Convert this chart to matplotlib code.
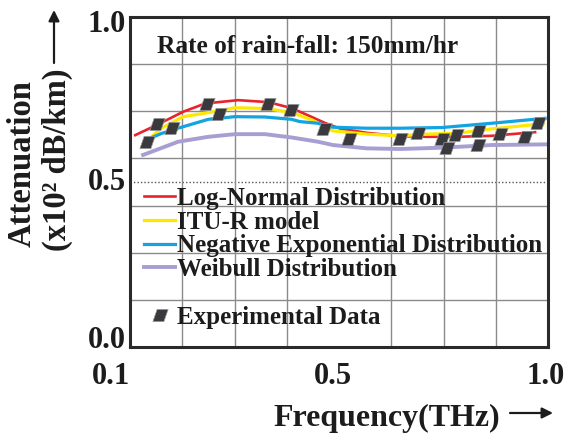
import numpy as np
import matplotlib
matplotlib.use('Agg')
import matplotlib.pyplot as plt
from matplotlib.ticker import NullFormatter
from matplotlib.transforms import ScaledTranslation

plt.rcParams['font.family'] = ['Liberation Serif', 'DejaVu Serif']
plt.rcParams['font.weight'] = 'bold'

# ---------------- data ----------------
x_ticks = [0.1, 0.5, 1.0]
x_tick_labels = ['0.1', '0.5', '1.0']
y_ticks = [0.0, 0.5, 1.0]
y_tick_labels = ['0.0', '0.5', '1.0']

lognormal_f = [0.110, 0.154, 0.202, 0.244, 0.307, 0.365, 0.409, 0.448, 0.473, 0.502,
               0.566, 0.646, 0.710, 0.785, 0.865, 0.969]
lognormal_y = [0.642, 0.675, 0.713, 0.738, 0.748, 0.742, 0.724, 0.697, 0.679, 0.662,
               0.649, 0.639, 0.637, 0.637, 0.640, 0.651]

itur_f = [0.131, 0.160, 0.202, 0.253, 0.301, 0.358, 0.409, 0.448, 0.4885, 0.566,
          0.646, 0.710, 0.785, 0.865, 0.945, 0.988]
itur_y = [0.622, 0.663, 0.698, 0.711, 0.725, 0.723, 0.711, 0.688, 0.655, 0.645,
          0.640, 0.645, 0.648, 0.661, 0.671, 0.677]

negexp_f = [0.138, 0.160, 0.192, 0.250, 0.301, 0.358, 0.409, 0.425, 0.460, 0.4885,
            0.566, 0.646, 0.746, 0.865, 0.993]
negexp_y = [0.632, 0.647, 0.663, 0.690, 0.698, 0.697, 0.690, 0.683, 0.678, 0.666,
            0.663, 0.663, 0.665, 0.678, 0.693]

weibull_f = [0.125, 0.192, 0.250, 0.301, 0.358, 0.409, 0.460, 0.4885, 0.566, 0.646,
             0.746, 0.865, 0.993]
weibull_y = [0.582, 0.622, 0.637, 0.645, 0.645, 0.635, 0.622, 0.612, 0.602, 0.600,
             0.604, 0.612, 0.614]

exp_f = [0.152, 0.132, 0.180, 0.248, 0.270, 0.365, 0.408, 0.472, 0.524, 0.645,
         0.690, 0.746, 0.779, 0.758, 0.832, 0.833, 0.885, 0.945, 0.975]
exp_y = [0.675, 0.620, 0.665, 0.736, 0.705, 0.737, 0.718, 0.662, 0.629, 0.629,
         0.650, 0.629, 0.642, 0.604, 0.655, 0.613, 0.646, 0.637, 0.680]

series_labels = ['Log-Normal Distribution', 'ITU-R model',
                 'Negative Exponential Distribution', 'Weibull Distribution']
exp_label = 'Experimental Data'


# piecewise-linear frequency axis (0.1..0.5 on left half, 0.5..1.0 on right half)
def fwd(x):
    x = np.asarray(x, dtype=float)
    return np.where(x <= 0.5, (x - 0.1) / 0.8, x)


def inv(t):
    t = np.asarray(t, dtype=float)
    return np.where(t <= 0.5, 0.1 + 0.8 * t, t)


TXT = '#1c1c1c'
W, H = 565, 434
fig = plt.figure(figsize=(W / 100, H / 100), dpi=100)
ax = fig.add_axes([130 / W, 87 / H, 418 / W, 330 / H])
ax.set_xscale('function', functions=(fwd, inv))
ax.set_xlim(0.1, 1.0)
ax.set_ylim(0.0, 1.0)

grid_x = [0.2, 0.3, 0.4, 0.5, 0.625, 0.75, 0.875]
grid_y = [k / 7 for k in range(1, 7)]
ax.set_xticks(grid_x, minor=True)
ax.set_yticks(grid_y, minor=True)
ax.xaxis.set_minor_formatter(NullFormatter())
ax.yaxis.set_minor_formatter(NullFormatter())
ax.grid(which='minor', color='#8a8a8a', lw=1.0, zorder=0)
ax.grid(which='major', visible=False)
ax.axhline(0.5, color='#555555', lw=1.0, ls=(0, (1, 1.5)), zorder=1)

l1, = ax.plot(lognormal_f, lognormal_y, color='#e8232b', lw=1.9, zorder=3)
l2, = ax.plot(itur_f, itur_y, color='#ffe800', lw=2.3, zorder=3)
l3, = ax.plot(negexp_f, negexp_y, color='#12a3e0', lw=2.3, zorder=3)
l4, = ax.plot(weibull_f, weibull_y, color='#a99ed2', lw=2.8, zorder=3)

verts = [(-0.5, -0.4), (0.22, -0.4), (0.5, 0.4), (-0.22, 0.4), (-0.5, -0.4)]
m, = ax.plot(exp_f, exp_y, ls='none', marker=verts, ms=11, mfc='#3a3a3e',
             mec='#9a9a9a', mew=0.5, zorder=5)

ax.set_xticks(x_ticks, labels=x_tick_labels)
ax.set_yticks(y_ticks, labels=y_tick_labels)
ax.tick_params(which='both', length=0)
ax.tick_params(axis='x', labelsize=22, pad=10.5, colors=TXT)
ax.tick_params(axis='y', labelsize=22, pad=3, colors=TXT)
xl = ax.get_xticklabels()
xl[0].set_ha('right')
for lab, dx in zip(xl, [0, -6, -2]):
    lab.set_transform(lab.get_transform() + ScaledTranslation(dx / 100, 0, fig.dpi_scale_trans))
yl = ax.get_yticklabels()
for lab, dy in zip(yl, [-1, -8, -15]):
    lab.set_va('baseline')
    lab.set_transform(lab.get_transform() + ScaledTranslation(0, dy / 100, fig.dpi_scale_trans))

for s in ax.spines.values():
    s.set_linewidth(2.2)
    s.set_color('#2a2a2a')
    s.set_zorder(6)

ax.text(0.0653, 0.890, 'Rate of rain-fall: 150mm/hr', transform=ax.transAxes,
        fontsize=18.3, va='baseline', ha='left', color=TXT, zorder=7)

leg1 = ax.legend([l1, l2, l3, l4], series_labels, loc='upper left',
                 bbox_to_anchor=(0.0335, 0.485), frameon=False, fontsize=18,
                 handlelength=1.24, handletextpad=0.08, labelspacing=0.03,
                 borderpad=0, borderaxespad=0, labelcolor=TXT)
ax.add_artist(leg1)
leg2 = ax.legend([m], [exp_label], loc='upper left', numpoints=1,
                 bbox_to_anchor=(0.0335, 0.125), frameon=False, fontsize=18,
                 handlelength=1.24, handletextpad=0.08,
                 borderpad=0, borderaxespad=0, labelcolor=TXT)

# axis labels with arrows
fig.text(22 / W, 1 - 164 / H, 'Attenuation', rotation=90, ha='center',
         va='center', fontsize=23.5, color=TXT)
fig.text(57 / W, 1 - 160 / H, '(x10² dB/km)', rotation=90, ha='center',
         va='center', fontsize=23.5, color=TXT)
fig.text(387 / W, 1 - 418 / H, 'Frequency(THz)', ha='center', va='center',
         fontsize=23, color=TXT)

arrow = dict(arrowstyle='-|>', color=TXT, lw=1.6, mutation_scale=16,
             shrinkA=0, shrinkB=0)
ax.annotate('', xy=(54 / W, 1 - 10 / H), xytext=(54 / W, 1 - 63 / H),
            xycoords='figure fraction', textcoords='figure fraction',
            arrowprops=arrow, annotation_clip=False)
ax.annotate('', xy=(553 / W, 1 - 413 / H), xytext=(510 / W, 1 - 413 / H),
            xycoords='figure fraction', textcoords='figure fraction',
            arrowprops=arrow, annotation_clip=False)

fig.savefig('out.png', dpi=100)
